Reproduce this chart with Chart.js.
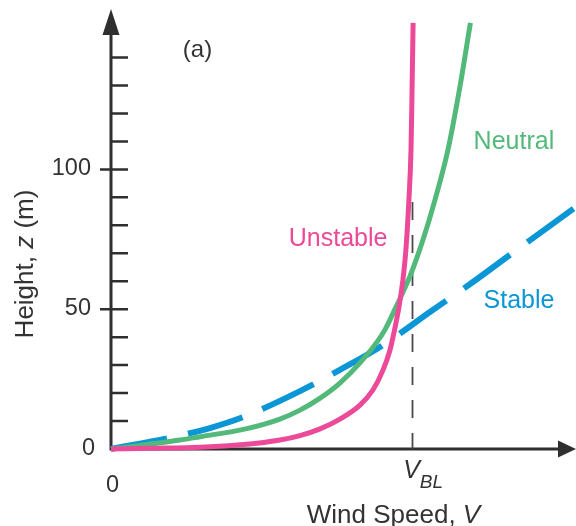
<!DOCTYPE html>
<html>
<head>
<meta charset="utf-8">
<script src="https://cdn.jsdelivr.net/npm/chart.js@4/dist/chart.umd.min.js"></script>
<style>
  html, body { margin: 0; padding: 0; background: #ffffff; }
  canvas { display: block; }
</style>
</head>
<body>
<canvas id="profile" width="576" height="526"></canvas>
<script>
// Wind speed is in relative units (boundary-layer wind V_BL ≈ 10), height in metres.
const vBL = 10.05;
const vBLLineTop = 88.5;

const unstableV = [0, 1.30, 2.97, 4.63, 5.63, 6.30, 6.97, 7.63, 8.30, 8.73, 9.07, 9.30, 9.43, 9.60, 9.73, 9.83, 9.93, 10.00, 10.03, 10.07];
const unstableZ = [0, 0.25, 0.64, 1.75, 3.2, 4.8, 7.2, 10.7, 15.7, 21.1, 28.3, 35.4, 41.5, 50.8, 60.4, 71.2, 89.1, 106.9, 124.8, 152.4];

const neutralV = [0, 2.30, 2.97, 4.53, 5.63, 6.30, 6.97, 7.63, 8.30, 8.87, 9.13, 9.47, 9.97, 10.40, 10.80, 11.23, 11.63, 11.98];
const neutralZ = [0, 3.2, 4.4, 7.3, 10.7, 13.9, 18.2, 23.6, 30.8, 38.3, 42.6, 50.1, 61.9, 74.8, 89.1, 106.9, 129.5, 152.4];

const stableV = [0, 1.87, 3.30, 4.40, 6.30, 7.63, 9.07, 10.63, 11.97, 13.47, 15.50];
const stableZ = [0, 3.8, 7.5, 11.4, 20.7, 28.3, 37.2, 49.0, 59.0, 70.8, 86.6];

const heightTicks = [10, 20, 30, 40, 50, 60, 70, 80, 90, 100, 110, 120, 130, 140];
const heightLabels = [0, 50, 100];

const seriesNames = ['Unstable', 'Neutral', 'Stable'];

// ---- styling ----
const FONT = "'Liberation Sans', Arial, Helvetica, sans-serif";
const AXIS_COLOR = '#2f2f2f';
const TEXT_COLOR = '#333333';
const PINK = '#ec4a98';
const GREEN = '#52b97a';
const BLUE = '#0b96d5';

// label anchors in data units (V, z)
const seriesLabelStyle = [
  { v: 7.57, z: 75.0, color: PINK },
  { v: 13.43, z: 109.7, color: GREEN },
  { v: 13.60, z: 52.8, color: BLUE }
];

const pts = (xs, ys) => xs.map((x, i) => ({ x: x, y: ys[i] }));

function drawRuns(ctx, runs, x, y, align) {
  let total = 0;
  runs.forEach(r => { ctx.font = r.font; r.w = ctx.measureText(r.text).width; total += r.w; });
  let cx = align === 'center' ? x - total / 2 : x;
  runs.forEach(r => {
    ctx.font = r.font;
    ctx.textAlign = 'left';
    ctx.fillText(r.text, cx, y + (r.dy || 0));
    cx += r.w;
  });
}

const axesPlugin = {
  id: 'profileAxes',
  beforeDatasetsDraw(chart) {
    const { ctx, chartArea: a, scales: { x, y } } = chart;
    const x0 = x.getPixelForValue(0);
    const y0 = y.getPixelForValue(0);
    ctx.save();
    ctx.strokeStyle = AXIS_COLOR;
    ctx.fillStyle = AXIS_COLOR;
    ctx.lineCap = 'butt';

    // axis lines
    ctx.lineWidth = 3;
    ctx.beginPath();
    ctx.moveTo(x0, y0 + 1.5);
    ctx.lineTo(x0, a.top + 20);
    ctx.moveTo(x0 - 1.5, y0);
    ctx.lineTo(a.right - 14, y0);
    ctx.stroke();

    // arrow heads
    ctx.beginPath();
    ctx.moveTo(x0, a.top - 1);
    ctx.lineTo(x0 - 8.5, a.top + 25);
    ctx.lineTo(x0 + 8.5, a.top + 25);
    ctx.closePath();
    ctx.fill();
    ctx.beginPath();
    ctx.moveTo(a.right, y0);
    ctx.lineTo(a.right - 18, y0 - 8.5);
    ctx.lineTo(a.right - 18, y0 + 8.5);
    ctx.closePath();
    ctx.fill();

    // height ticks: short inside marks, labelled ones cross the axis
    ctx.lineWidth = 2.5;
    ctx.beginPath();
    heightTicks.forEach(v => {
      const py = y.getPixelForValue(v);
      const labelled = heightLabels.includes(v);
      ctx.moveTo(labelled ? x0 - 11 : x0, py);
      ctx.lineTo(x0 + 17, py);
    });
    ctx.stroke();
    ctx.restore();
  },
  afterDatasetsDraw(chart) {
    const { ctx, scales: { x, y } } = chart;
    const x0 = x.getPixelForValue(0);
    const y0 = y.getPixelForValue(0);
    ctx.save();
    ctx.fillStyle = TEXT_COLOR;
    ctx.textBaseline = 'alphabetic';

    // height tick labels
    ctx.font = `23.5px ${FONT}`;
    ctx.textAlign = 'right';
    heightLabels.forEach(v => {
      const py = y.getPixelForValue(v);
      if (v === 0) ctx.fillText(String(v), x0 - 16, py + 6);
      else ctx.fillText(String(v), x0 - 20, py + 6);
    });

    // wind speed tick labels
    ctx.textAlign = 'center';
    ctx.fillText('0', x0 + 1.5, y0 + 43);
    const pv = x.getPixelForValue(vBL);
    ctx.font = `italic 25px ${FONT}`;
    const vw = ctx.measureText('V').width;
    drawRuns(ctx, [
      { text: 'V', font: `italic 25px ${FONT}` },
      { text: 'BL', font: `italic 19px ${FONT}`, dy: 10 }
    ], pv - vw / 2 - 1, y0 + 29, 'left');

    // axis titles
    drawRuns(ctx, [
      { text: 'Wind Speed, ', font: `26px ${FONT}` },
      { text: 'V', font: `italic 26px ${FONT}` }
    ], 393.5, 523, 'center');

    ctx.save();
    ctx.translate(32.5, 264);
    ctx.rotate(-Math.PI / 2);
    drawRuns(ctx, [
      { text: 'Height, ', font: `26px ${FONT}` },
      { text: 'z', font: `italic 26px ${FONT}` },
      { text: ' (m)', font: `26px ${FONT}` }
    ], 0, 0, 'center');
    ctx.restore();

    // panel tag
    ctx.font = `24px ${FONT}`;
    ctx.textAlign = 'center';
    ctx.fillText('(a)', 197.5, 57);

    // series labels
    ctx.font = `25px ${FONT}`;
    ctx.textBaseline = 'middle';
    seriesNames.forEach((name, i) => {
      const s = seriesLabelStyle[i];
      ctx.fillStyle = s.color;
      ctx.fillText(name, x.getPixelForValue(s.v), y.getPixelForValue(s.z));
    });
    ctx.restore();
  }
};

const curve = {
  showLine: true,
  cubicInterpolationMode: 'monotone',
  pointRadius: 0,
  borderCapStyle: 'butt',
  borderJoinStyle: 'round'
};

new Chart(document.getElementById('profile'), {
  type: 'scatter',
  data: {
    datasets: [
      Object.assign({}, curve, {
        label: seriesNames[0],
        data: pts(unstableV, unstableZ),
        borderColor: PINK,
        borderWidth: 5,
        order: 1
      }),
      Object.assign({}, curve, {
        label: seriesNames[1],
        data: pts(neutralV, neutralZ),
        borderColor: GREEN,
        borderWidth: 5,
        order: 2
      }),
      Object.assign({}, curve, {
        label: seriesNames[2],
        data: pts(stableV, stableZ),
        borderColor: BLUE,
        borderWidth: 6,
        borderDash: [57, 21.5],
        order: 3
      }),
      {
        label: 'V_BL',
        data: [{ x: vBL, y: 0 }, { x: vBL, y: vBLLineTop }],
        showLine: true,
        borderColor: '#4a4a4a',
        borderWidth: 1.8,
        borderDash: [18, 15],
        borderDashOffset: 2,
        pointRadius: 0,
        order: 4
      }
    ]
  },
  options: {
    responsive: false,
    animation: false,
    events: [],
    layout: { padding: { left: 111, right: 0, top: 10, bottom: 77 } },
    scales: {
      x: { type: 'linear', min: 0, max: 15.5, display: false },
      y: { type: 'linear', min: 0, max: 157, display: false }
    },
    plugins: {
      legend: { display: false },
      tooltip: { enabled: false }
    },
    elements: { line: { fill: false } },
    datasets: { scatter: { clip: false } }
  },
  plugins: [axesPlugin]
});
</script>
</body>
</html>
